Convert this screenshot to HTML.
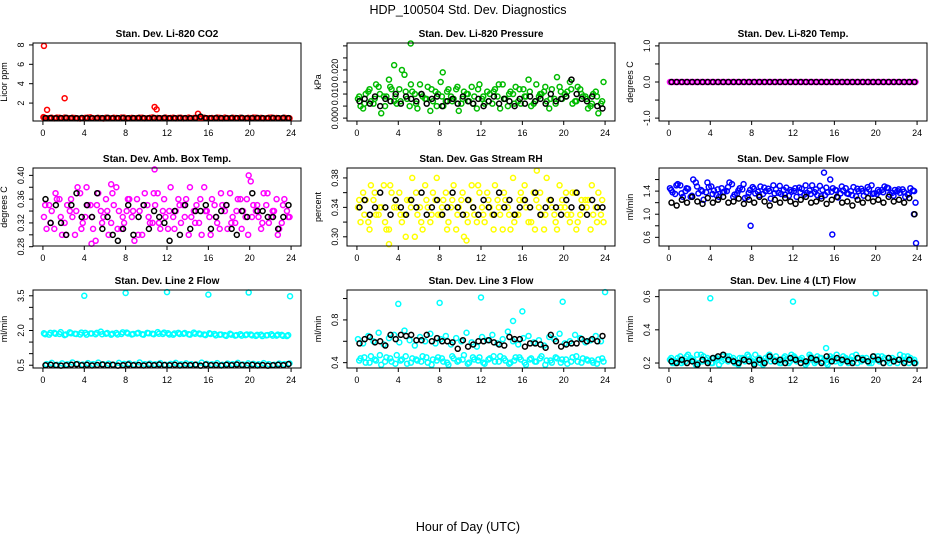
<!DOCTYPE html>
<html><head><meta charset="utf-8"><style>
html,body{margin:0;padding:0;background:#fff}
svg{display:block;font-family:"Liberation Sans",sans-serif}
</style></head><body>
<svg id="chart" width="936" height="540" viewBox="0 0 936 540" xmlns="http://www.w3.org/2000/svg">
<text x="468" y="14" text-anchor="middle" font-size="12.5">HDP_100504  Std. Dev. Diagnostics</text>
<text x="468" y="531" text-anchor="middle" font-size="12.5">Hour of Day (UTC)</text>
</svg>
<script>
// ---- data ----
const xTicks = [0,4,8,12,16,20,24];

const co2A = [0.5,0.45,0.42,0.48,0.5,0.44,0.46,0.41,0.47,0.52,0.43,0.45,0.49,0.44,0.46,0.5,0.42,0.47,0.45,0.48,0.44,0.51,0.46,0.43,0.45,0.49,0.47,0.42,0.5,0.46,0.44,0.48,0.45,0.43,0.47,0.5,0.44,0.46,0.49,0.42,0.45,0.48,0.47,0.43,0.5,0.46,0.44,0.45];
const co2B = [0.44,0.48,0.5,0.43,0.46,0.49,0.42,0.45,0.5,0.44,0.47,0.41,0.46,0.48,0.43,0.5,0.45,0.44,0.49,0.42,0.47,0.45,0.43,0.5,0.46,0.42,0.48,0.45,0.44,0.49,0.47,0.43,0.46,0.5,0.42,0.45,0.48,0.44,0.43,0.47,0.5,0.45,0.42,0.48,0.46,0.44,0.49,0.43];
const co2C = [];
const co2K = [0.45,0.46,0.44,0.45,0.47,0.45,0.44,0.46,0.45,0.44,0.46,0.45,0.47,0.44,0.45,0.46,0.44,0.45,0.46,0.45,0.44,0.46,0.45,0.47,0.44,0.45,0.46,0.45,0.44,0.46,0.6,0.45,0.44,0.46,0.45,0.44,0.46,0.45,0.47,0.44,0.45,0.46,0.45,0.44,0.46,0.45,0.47,0.45];
const co2OutH = [0.1,0.4,2.1,10.8,11.0,15.0,0.05];
const co2OutV = [7.9,1.3,2.5,1.6,1.35,0.9,0.55];

const prA = [0.008,0.004,0.011,0.006,0.013,0.009,0.016,0.007,0.012,0.018,0.005,0.010,0.014,0.008,0.003,0.011,0.015,0.007,0.009,0.012,0.006,0.010,0.013,0.004,0.008,0.011,0.006,0.009,0.014,0.005,0.010,0.007,0.012,0.016,0.006,0.009,0.011,0.004,0.008,0.013,0.010,0.015,0.007,0.012,0.009,0.005,0.011,0.006];
const prB = [0.005,0.010,0.007,0.014,0.002,0.009,0.012,0.006,0.020,0.008,0.011,0.004,0.009,0.013,0.007,0.010,0.005,0.012,0.008,0.003,0.011,0.007,0.009,0.014,0.006,0.010,0.012,0.004,0.008,0.011,0.013,0.006,0.009,0.005,0.014,0.010,0.007,0.012,0.017,0.008,0.011,0.006,0.013,0.009,0.004,0.010,0.002,0.015];
const prC = [0.009,0.006,0.012,0.008,0.010,0.005,0.013,0.009,0.007,0.011,0.014,0.006,0.010,0.008,0.012,0.005,0.009,0.011,0.007,0.013,0.008,0.010,0.006,0.012,0.009,0.007,0.011,0.014,0.008,0.010,0.006,0.012,0.009,0.011,0.007,0.010,0.013,0.008,0.006,0.011,0.009,0.012,0.007,0.010,0.008,0.006,0.009,0.007];
const prK = [0.007,0.008,0.006,0.009,0.005,0.008,0.007,0.010,0.006,0.009,0.008,0.007,0.010,0.006,0.008,0.009,0.005,0.007,0.008,0.006,0.009,0.007,0.006,0.008,0.005,0.007,0.009,0.006,0.008,0.007,0.005,0.008,0.006,0.009,0.007,0.008,0.006,0.010,0.007,0.008,0.009,0.016,0.010,0.008,0.007,0.009,0.005,0.004];
const prOutH = [5.2,3.6,8.3];
const prOutV = [0.031,0.022,0.019];

const tmA = [0,0,0,0,0,0,0,0,0,0,0,0,0,0,0,0,0,0,0,0,0,0,0,0,0,0,0,0,0,0,0,0,0,0,0,0,0,0,0,0,0,0,0,0,0,0,0,0];
const tmB = [0,0,0,0,0,0,0,0,0,0,0,0,0,0,0,0,0,0,0,0,0,0,0,0,0,0,0,0,0,0,0,0,0,0,0,0,0,0,0,0,0,0,0,0,0,0,0,0];
const tmC = [];
const tmK = [0,0,0,0,0,0,0,0,0,0,0,0,0,0,0,0,0,0,0,0,0,0,0,0,0,0,0,0,0,0,0,0,0,0,0,0,0,0,0,0,0,0,0,0,0,0,0,0];

const abA = [0.33,0.35,0.31,0.36,0.32,0.34,0.30,0.37,0.33,0.35,0.29,0.34,0.36,0.32,0.38,0.31,0.34,0.33,0.36,0.30,0.35,0.32,0.37,0.34,0.31,0.33,0.36,0.35,0.30,0.34,0.32,0.38,0.33,0.35,0.31,0.34,0.37,0.32,0.36,0.33,0.39,0.34,0.31,0.35,0.33,0.36,0.32,0.34];
const abB = [0.31,0.34,0.36,0.30,0.35,0.33,0.38,0.32,0.35,0.31,0.37,0.33,0.30,0.35,0.34,0.32,0.36,0.29,0.34,0.37,0.32,0.35,0.31,0.33,0.38,0.34,0.32,0.36,0.33,0.35,0.30,0.34,0.36,0.32,0.35,0.31,0.33,0.36,0.34,0.30,0.35,0.33,0.37,0.32,0.34,0.31,0.36,0.33];
const abC = [0.35,0.32,0.37,0.33,0.30,0.36,0.34,0.31,0.38,0.33,0.35,0.32,0.34,0.37,0.31,0.33,0.36,0.34,0.30,0.35,0.33,0.37,0.32,0.36,0.34,0.31,0.35,0.33,0.38,0.32,0.36,0.34,0.30,0.33,0.37,0.35,0.32,0.34,0.31,0.36,0.33,0.35,0.32,0.37,0.34,0.30,0.35,0.33];
const abK = [0.36,0.32,0.35,0.32,0.30,0.35,0.37,0.33,0.35,0.33,0.37,0.31,0.33,0.30,0.29,0.31,0.35,0.30,0.33,0.35,0.31,0.34,0.33,0.32,0.29,0.34,0.30,0.35,0.31,0.34,0.34,0.35,0.31,0.33,0.34,0.35,0.31,0.30,0.34,0.33,0.37,0.34,0.34,0.33,0.33,0.31,0.33,0.35];
const abOutH = [10.8,19.9,4.7,6.6];
const abOutV = [0.41,0.40,0.285,0.385];

const rhA = [0.34,0.36,0.32,0.35,0.33,0.37,0.31,0.34,0.36,0.33,0.35,0.30,0.34,0.37,0.32,0.35,0.33,0.36,0.34,0.31,0.35,0.33,0.37,0.32,0.34,0.36,0.33,0.35,0.31,0.34,0.38,0.33,0.35,0.32,0.36,0.34,0.31,0.35,0.33,0.37,0.34,0.32,0.36,0.33,0.35,0.31,0.34,0.33];
const rhB = [0.32,0.35,0.37,0.33,0.34,0.31,0.36,0.34,0.32,0.35,0.38,0.33,0.31,0.34,0.36,0.33,0.35,0.32,0.37,0.34,0.30,0.35,0.33,0.36,0.32,0.34,0.37,0.33,0.35,0.31,0.33,0.36,0.34,0.32,0.35,0.33,0.38,0.34,0.31,0.35,0.33,0.36,0.32,0.34,0.35,0.33,0.36,0.32];
const rhC = [0.35,0.33,0.31,0.36,0.34,0.32,0.37,0.35,0.33,0.30,0.34,0.36,0.32,0.35,0.33,0.38,0.34,0.31,0.35,0.33,0.36,0.32,0.34,0.37,0.33,0.35,0.31,0.34,0.36,0.33,0.32,0.35,0.37,0.34,0.31,0.36,0.33,0.35,0.32,0.34,0.36,0.33,0.31,0.35,0.34,0.37,0.32,0.35];
const rhK = [0.34,0.35,0.33,0.34,0.36,0.34,0.33,0.35,0.34,0.33,0.35,0.34,0.36,0.33,0.34,0.35,0.33,0.34,0.36,0.34,0.33,0.35,0.34,0.33,0.35,0.34,0.33,0.36,0.34,0.35,0.33,0.34,0.35,0.34,0.36,0.33,0.34,0.35,0.34,0.33,0.35,0.34,0.36,0.34,0.33,0.35,0.34,0.34];
const rhOutH = [3.1,17.4,10.6];
const rhOutV = [0.29,0.39,0.295];

const sfA = [1.45,1.35,1.5,1.4,1.3,1.55,1.42,1.38,1.48,1.33,1.45,1.4,1.52,1.36,1.43,1.3,1.47,1.39,1.35,1.44,1.5,1.37,1.42,1.32,1.4,1.46,1.34,1.41,1.38,1.49,1.33,1.6,1.42,1.36,1.45,1.4,1.31,1.44,1.38,1.5,1.35,1.42,1.46,1.37,1.4,1.43,1.34,1.41];
const sfB = [1.38,1.52,1.3,1.44,1.6,1.36,1.25,1.47,1.41,1.3,1.39,1.55,1.34,1.45,1.28,1.42,1.36,1.48,1.4,1.27,1.43,1.35,1.46,1.39,1.3,1.44,1.37,1.5,1.33,1.42,1.38,1.45,1.29,1.41,1.35,1.47,1.4,1.32,1.43,1.36,1.39,1.48,1.34,1.42,1.37,1.3,1.45,1.2];
const sfC = [1.42,1.5,1.36,1.45,1.32,1.48,1.4,1.55,1.35,1.43,1.38,1.47,1.3,1.41,1.52,1.37,1.44,1.33,1.46,1.4,1.36,1.49,1.34,1.42,1.45,1.38,1.5,1.35,1.43,1.31,1.46,1.39,1.41,1.48,1.36,1.33,1.44,1.4,1.47,1.35,1.42,1.38,1.45,1.32,1.43,1.39,1.36,1.4];
const sfK = [1.2,1.15,1.25,1.2,1.3,1.22,1.18,1.28,1.2,1.25,1.3,1.2,1.22,1.27,1.18,1.25,1.2,1.3,1.22,1.15,1.25,1.2,1.28,1.22,1.18,1.25,1.3,1.2,1.22,1.27,1.18,1.25,1.3,1.2,1.22,1.15,1.25,1.2,1.28,1.22,1.25,1.2,1.3,1.22,1.25,1.2,1.28,1.0];
const sfOutH = [7.9,15.8,23.9,15.0,23.7];
const sfOutV = [0.8,0.65,0.5,1.72,1.0];

const l2A = [1.88,1.82,1.9,1.85,1.8,1.92,1.86,1.83,1.9,1.87,1.84,1.95,1.86,1.82,1.89,1.85,1.91,1.83,1.87,1.84,1.9,1.86,1.93,1.85,1.88,1.82,1.9,1.86,1.84,1.91,1.87,1.83,1.88,1.85,1.82,1.8,1.86,1.78,1.84,1.8,1.83,1.77,1.82,1.79,1.84,1.78,1.81,1.76];
const l2B = [0.55,0.6,0.52,0.58,0.54,0.62,0.56,0.53,0.59,0.55,0.61,0.54,0.57,0.52,0.6,0.56,0.58,0.53,0.62,0.55,0.57,0.54,0.59,0.52,0.56,0.6,0.54,0.58,0.55,0.53,0.61,0.56,0.54,0.59,0.52,0.57,0.55,0.6,0.53,0.58,0.56,0.54,0.59,0.55,0.52,0.57,0.55,0.58];
const l2C = [1.84,1.9,1.86,1.93,1.83,1.88,1.85,1.91,1.82,1.87,1.9,1.84,1.89,1.86,1.83,1.92,1.87,1.85,1.9,1.82,1.88,1.84,1.86,1.91,1.83,1.87,1.85,1.89,1.82,1.86,1.84,1.8,1.85,1.79,1.83,1.77,1.82,1.8,1.78,1.83,1.79,1.81,1.76,1.8,1.78,1.82,1.77,1.8];
const l2K = [0.5,0.52,0.5,0.48,0.5,0.52,0.54,0.5,0.52,0.49,0.51,0.53,0.5,0.52,0.48,0.5,0.53,0.5,0.51,0.49,0.52,0.5,0.53,0.51,0.5,0.52,0.49,0.51,0.5,0.52,0.48,0.53,0.5,0.51,0.49,0.52,0.5,0.53,0.51,0.5,0.52,0.49,0.51,0.48,0.5,0.52,0.5,0.55];
const l2OutH = [4.0,8.0,12.0,16.0,19.9,23.9];
const l2OutV = [3.5,3.62,3.66,3.55,3.64,3.48];

const l3A = [0.62,0.58,0.65,0.6,0.68,0.57,0.63,0.66,0.59,0.7,0.61,0.56,0.64,0.6,0.67,0.58,0.62,0.65,0.57,0.63,0.6,0.68,0.59,0.55,0.64,0.61,0.66,0.58,0.62,0.69,0.6,0.57,0.63,0.65,0.59,0.61,0.56,0.64,0.62,0.67,0.58,0.6,0.66,0.63,0.59,0.61,0.65,0.6];
const l3B = [0.44,0.4,0.46,0.42,0.38,0.45,0.41,0.47,0.43,0.39,0.44,0.42,0.46,0.4,0.43,0.45,0.41,0.38,0.44,0.42,0.47,0.4,0.43,0.45,0.39,0.44,0.41,0.46,0.42,0.4,0.45,0.43,0.38,0.44,0.41,0.46,0.42,0.4,0.44,0.43,0.39,0.45,0.41,0.44,0.42,0.4,0.43,0.41];
const l3C = [0.42,0.45,0.4,0.43,0.47,0.41,0.44,0.39,0.42,0.46,0.4,0.43,0.41,0.45,0.38,0.42,0.44,0.4,0.46,0.41,0.43,0.39,0.45,0.42,0.4,0.43,0.46,0.41,0.44,0.39,0.42,0.45,0.4,0.43,0.41,0.44,0.38,0.42,0.45,0.4,0.43,0.41,0.46,0.4,0.43,0.42,0.39,0.44];
const l3K = [0.58,0.62,0.64,0.59,0.6,0.56,0.66,0.62,0.66,0.65,0.66,0.61,0.61,0.66,0.6,0.63,0.6,0.6,0.59,0.53,0.61,0.55,0.57,0.6,0.6,0.61,0.59,0.57,0.56,0.64,0.62,0.62,0.55,0.58,0.58,0.57,0.54,0.66,0.6,0.55,0.57,0.58,0.58,0.62,0.6,0.62,0.6,0.65];
const l3OutH = [4.0,8.0,12.0,16.0,19.9,24.0,15.1];
const l3OutV = [0.95,0.96,1.01,0.88,0.97,1.06,0.79];

const l4A = [0.22,0.2,0.24,0.21,0.23,0.19,0.25,0.22,0.2,0.23,0.21,0.24,0.22,0.2,0.23,0.25,0.21,0.22,0.19,0.24,0.22,0.21,0.23,0.2,0.24,0.22,0.21,0.25,0.2,0.23,0.22,0.24,0.21,0.2,0.23,0.22,0.25,0.21,0.23,0.2,0.22,0.24,0.21,0.23,0.2,0.22,0.24,0.21];
const l4B = [0.2,0.23,0.21,0.25,0.22,0.2,0.24,0.21,0.23,0.19,0.22,0.24,0.2,0.23,0.21,0.22,0.25,0.2,0.23,0.21,0.24,0.2,0.22,0.25,0.21,0.23,0.2,0.22,0.24,0.21,0.19,0.23,0.22,0.24,0.2,0.21,0.23,0.22,0.2,0.24,0.21,0.23,0.2,0.22,0.25,0.21,0.23,0.2];
const l4C = [0.23,0.21,0.2,0.24,0.22,0.25,0.21,0.23,0.2,0.22,0.24,0.21,0.23,0.19,0.22,0.24,0.2,0.23,0.21,0.25,0.22,0.2,0.24,0.21,0.23,0.22,0.19,0.24,0.21,0.23,0.2,0.22,0.25,0.21,0.22,0.24,0.2,0.23,0.21,0.22,0.24,0.2,0.23,0.21,0.22,0.24,0.2,0.22];
const l4K = [0.21,0.2,0.22,0.2,0.21,0.19,0.22,0.2,0.23,0.24,0.25,0.22,0.21,0.2,0.22,0.21,0.19,0.22,0.2,0.24,0.21,0.22,0.2,0.23,0.22,0.2,0.21,0.23,0.22,0.2,0.24,0.21,0.23,0.22,0.21,0.2,0.23,0.22,0.21,0.24,0.22,0.2,0.23,0.21,0.22,0.2,0.22,0.2];
const l4OutH = [4.0,12.0,20.0,15.2];
const l4OutV = [0.59,0.57,0.62,0.29];

// ---- layout ----
const NS = 'http://www.w3.org/2000/svg';
const svg = document.getElementById('chart');
const colX = [33,347,659], rowY = [43,168,290], PW = 268, PH = 78;

function mk(tag, attrs, parent){
  const e = document.createElementNS(NS, tag);
  for (const k in attrs) e.setAttribute(k, attrs[k]);
  (parent||svg).appendChild(e);
  return e;
}

const panels = [
 {title:'Stan. Dev. Li-820 CO2', ylab:'Licor ppm', col:'#ff0000', ymin:0.15, ymax:8.2, ticks:[2,4,6,8], labs:['2','4','6','8'], A:co2A, B:co2B, C:co2C, K:co2K, oH:co2OutH, oV:co2OutV, name:'co2'},
 {title:'Stan. Dev. Li-820 Pressure', ylab:'kPa', col:'#00bb00', ymin:-0.0012, ymax:0.0312, ticks:[0,0.005,0.01,0.015,0.02,0.025,0.03], labs:['0.000','','0.010','','0.020','',''], A:prA, B:prB, C:prC, K:prK, oH:prOutH, oV:prOutV, name:'pressure'},
 {title:'Stan. Dev. Li-820 Temp.', ylab:'degrees C', col:'#ff00ff', ymin:-1.08, ymax:1.08, ticks:[-1,-0.5,0,0.5,1], labs:['-1.0','','0.0','','1.0'], A:tmA, B:tmB, C:tmC, K:tmK, oH:[], oV:[], name:'licor-temp'},
 {title:'Stan. Dev. Amb. Box Temp.', ylab:'degrees C', col:'#ff00ff', ymin:0.2812, ymax:0.4124, ticks:[0.28,0.3,0.32,0.34,0.36,0.38,0.4], labs:['0.28','','0.32','','0.36','','0.40'], A:abA, B:abB, C:abC, K:abK, oH:abOutH, oV:abOutV, name:'box-temp'},
 {title:'Stan. Dev. Gas Stream RH', ylab:'percent', col:'#ffff00', ymin:0.2875, ymax:0.3935, ticks:[0.3,0.32,0.34,0.36,0.38], labs:['0.30','','0.34','','0.38'], A:rhA, B:rhB, C:rhC, K:rhK, oH:rhOutH, oV:rhOutV, name:'rh'},
 {title:'Stan. Dev. Sample Flow', ylab:'ml/min', col:'#0000ff', ymin:0.45, ymax:1.8, ticks:[0.6,0.8,1.0,1.2,1.4,1.6], labs:['0.6','','1.0','','1.4',''], A:sfA, B:sfB, C:sfC, K:sfK, oH:sfOutH, oV:sfOutV, name:'sample-flow'},
 {title:'Stan. Dev. Line 2 Flow', ylab:'ml/min', col:'#00ffff', ymin:0.38, ymax:3.75, ticks:[0.5,1,1.5,2,2.5,3,3.5], labs:['0.5','','','2.0','','','3.5'], A:l2A, B:l2B, C:l2C, K:l2K, oH:l2OutH, oV:l2OutV, name:'line2-flow'},
 {title:'Stan. Dev. Line 3 Flow', ylab:'ml/min', col:'#00ffff', ymin:0.35, ymax:1.08, ticks:[0.4,0.6,0.8,1.0], labs:['0.4','','0.8',''], A:l3A, B:l3B, C:l3C, K:l3K, oH:l3OutH, oV:l3OutV, name:'line3-flow'},
 {title:'Stan. Dev. Line 4 (LT) Flow', ylab:'ml/min', col:'#00ffff', ymin:0.17, ymax:0.64, ticks:[0.2,0.4,0.6], labs:['0.2','0.4','0.6'], A:l4A, B:l4B, C:l4C, K:l4K, oH:l4OutH, oV:l4OutV, name:'line4-flow'}
];

panels.forEach((p, idx) => {
  const x0 = colX[idx%3], y0 = rowY[Math.floor(idx/3)];
  const g = mk('g', {});
  
  
  const xs = h => x0 + (h + 0.96) / 25.92 * PW;
  const ys = v => y0 + PH - (v - p.ymin) / (p.ymax - p.ymin) * PH;

  const t = mk('text', {x: x0 + PW/2, y: y0 - 6, 'text-anchor':'middle', 'font-size':'10', 'font-weight':'bold'}, g);
  t.textContent = p.title;
  
  

  const yl = mk('text', {transform:`translate(${x0-26},${y0+PH/2}) rotate(-90)`, 'text-anchor':'middle', 'font-size':'9'}, g);
  yl.textContent = p.ylab;
  
  

  const pts = mk('g', {fill:'none', 'stroke-width':'1.5'}, g);
  
  
  function dot(h, v, c){
    const y = ys(v);
    if (y < y0 - 3 || y > y0 + PH + 3) return;
    const c1 = mk('circle', {cx: xs(h), cy: y, r: 2.5, stroke: c}, pts);
    
    
  }
  p.A.forEach((v,i) => dot(i*0.5 + 0.1, v, p.col));
  p.B.forEach((v,i) => dot(i*0.5 + 0.35, v, p.col));
  p.C.forEach((v,i) => dot(i*0.5 + 0.22, v, p.col));
  p.oH.forEach((h,i) => dot(h, p.oV[i], p.col));
  p.K.forEach((v,i) => dot(i*0.5 + 0.25, v, '#000'));

  const box = mk('rect', {x:x0, y:y0, width:PW, height:PH, fill:'none', stroke:'#000', 'stroke-width':'1'}, g);
  
  

  const xa = mk('g', {stroke:'#000', 'stroke-width':'1'}, g);
  
  
  mk('line', {x1: xs(0), x2: xs(24), y1: y0+PH, y2: y0+PH}, xa);
  xTicks.forEach(h => {
    mk('line', {x1: xs(h), x2: xs(h), y1: y0+PH, y2: y0+PH+4}, xa);
    const tl = mk('text', {x: xs(h), y: y0+PH+15, 'text-anchor':'middle', 'font-size':'9', stroke:'none'}, xa);
    tl.textContent = h;
    
    
  });

  const ya = mk('g', {stroke:'#000', 'stroke-width':'1'}, g);
  
  
  mk('line', {x1: x0, x2: x0, y1: ys(p.ticks[0]), y2: ys(p.ticks[p.ticks.length-1])}, ya);
  p.ticks.forEach((v,i) => {
    mk('line', {x1: x0-4, x2: x0, y1: ys(v), y2: ys(v)}, ya);
    if (p.labs[i]) {
      const tl = mk('text', {transform:`translate(${x0-9},${ys(v)}) rotate(-90)`, 'text-anchor':'middle', 'font-size':'9', stroke:'none'}, ya);
      tl.textContent = p.labs[i];
      
      
    }
  });
});
</script>
</body></html>
